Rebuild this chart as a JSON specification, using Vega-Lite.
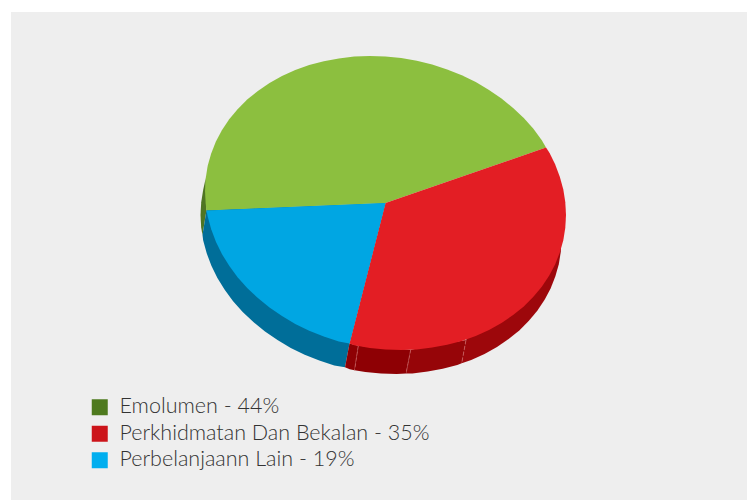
{"$schema":"https://vega.github.io/schema/vega-lite/v6.json","width":736,"height":488,"padding":{"left":11,"top":12,"right":0,"bottom":0},"background":"#ffffff","view":{"fill":"#eeeeee","stroke":null},"config":{"font":"Lato"},
"datasets":{
"walls":[
{"p":"g","i":0,"x":205.7,"y":178.25},{"p":"g","i":1,"x":203.2,"y":189.8},{"p":"g","i":2,"x":201.2,"y":202.25},{"p":"g","i":3,"x":200.5,"y":215},{"p":"g","i":4,"x":201.2,"y":227.85},{"p":"g","i":5,"x":202.5,"y":235},{"p":"g","i":6,"x":206.5,"y":210},
{"p":"b","i":0,"x":202.5,"y":235},{"p":"b","i":1,"x":203.2,"y":240.6},{"p":"b","i":2,"x":206.7,"y":253.3},{"p":"b","i":3,"x":211.4,"y":265.8},{"p":"b","i":4,"x":217.4,"y":278},{"p":"b","i":5,"x":224.7,"y":289.85},{"p":"b","i":6,"x":233.1,"y":301.2},{"p":"b","i":7,"x":242.7,"y":312},{"p":"b","i":8,"x":253.4,"y":322.1},{"p":"b","i":9,"x":265,"y":331.5},{"p":"b","i":10,"x":277.5,"y":340.1},{"p":"b","i":11,"x":290.75,"y":347.9},{"p":"b","i":12,"x":304.7,"y":354.7},{"p":"b","i":13,"x":319.3,"y":360.6},{"p":"b","i":14,"x":334.3,"y":365.4},{"p":"b","i":15,"x":345,"y":367.2},{"p":"b","i":16,"x":349.5,"y":343.5},{"p":"b","i":17,"x":385.5,"y":203},{"p":"b","i":18,"x":206.5,"y":210},
{"p":"r1","i":0,"x":349.5,"y":343.5},{"p":"r1","i":1,"x":345,"y":367.2},{"p":"r1","i":2,"x":349.7,"y":369.2},{"p":"r1","i":3,"x":354.5,"y":370.3},{"p":"r1","i":4,"x":358.3,"y":345.8},
{"p":"r2","i":0,"x":358.3,"y":345.8},{"p":"r2","i":1,"x":354.5,"y":370.3},{"p":"r2","i":2,"x":365.3,"y":371.9},{"p":"r2","i":3,"x":381,"y":373.5},{"p":"r2","i":4,"x":396.7,"y":373.9},{"p":"r2","i":5,"x":406,"y":373.6},{"p":"r2","i":6,"x":410.7,"y":349.8},
{"p":"r3","i":0,"x":410.7,"y":349.8},{"p":"r3","i":1,"x":406,"y":373.6},{"p":"r3","i":2,"x":412.3,"y":373.4},{"p":"r3","i":3,"x":427.7,"y":371.6},{"p":"r3","i":4,"x":442.7,"y":368.8},{"p":"r3","i":5,"x":457.3,"y":364.9},{"p":"r3","i":6,"x":461.7,"y":363.3},{"p":"r3","i":7,"x":466,"y":340},
{"p":"r4","i":0,"x":466,"y":340},{"p":"r4","i":1,"x":461.7,"y":363.3},{"p":"r4","i":2,"x":471.25,"y":359.9},{"p":"r4","i":3,"x":484.5,"y":353.9},{"p":"r4","i":4,"x":497,"y":346.9},{"p":"r4","i":5,"x":508.6,"y":339.1},{"p":"r4","i":6,"x":519.3,"y":330.4},{"p":"r4","i":7,"x":528.9,"y":320.8},{"p":"r4","i":8,"x":537.3,"y":310.65},{"p":"r4","i":9,"x":544.6,"y":299.8},{"p":"r4","i":10,"x":550.6,"y":288.4},{"p":"r4","i":11,"x":555.3,"y":276.5},{"p":"r4","i":12,"x":558.8,"y":264.2},{"p":"r4","i":13,"x":560.8,"y":251.75},{"p":"r4","i":14,"x":561.5,"y":239},{"p":"r4","i":15,"x":560.8,"y":226.15},{"p":"r4","i":16,"x":555,"y":210}
],
"seams":[
{"x":358.3,"y":345.8,"x2":354.5,"y2":370.3},{"x":410.7,"y":349.8,"x2":406,"y2":373.6},{"x":466,"y":340,"x2":461.7,"y2":363.3}
],
"tops":[
{"p":"Emolumen","i":0,"x":385.5,"y":203},{"p":"Emolumen","i":1,"x":546,"y":147.5},{"p":"Emolumen","i":2,"x":541.8,"y":140.15},{"p":"Emolumen","i":3,"x":533.4,"y":128.8},{"p":"Emolumen","i":4,"x":523.8,"y":118},{"p":"Emolumen","i":5,"x":513.1,"y":107.9},{"p":"Emolumen","i":6,"x":501.5,"y":98.5},{"p":"Emolumen","i":7,"x":489,"y":89.9},{"p":"Emolumen","i":8,"x":475.75,"y":82.1},{"p":"Emolumen","i":9,"x":461.8,"y":75.3},{"p":"Emolumen","i":10,"x":447.2,"y":69.4},{"p":"Emolumen","i":11,"x":432.2,"y":64.6},{"p":"Emolumen","i":12,"x":416.8,"y":60.8},{"p":"Emolumen","i":13,"x":401.2,"y":58.1},{"p":"Emolumen","i":14,"x":385.5,"y":56.5},{"p":"Emolumen","i":15,"x":369.8,"y":56.1},{"p":"Emolumen","i":16,"x":354.2,"y":56.6},{"p":"Emolumen","i":17,"x":338.8,"y":58.4},{"p":"Emolumen","i":18,"x":323.8,"y":61.2},{"p":"Emolumen","i":19,"x":309.2,"y":65.1},{"p":"Emolumen","i":20,"x":295.25,"y":70.1},{"p":"Emolumen","i":21,"x":282,"y":76.1},{"p":"Emolumen","i":22,"x":269.5,"y":83.1},{"p":"Emolumen","i":23,"x":257.9,"y":90.9},{"p":"Emolumen","i":24,"x":247.2,"y":99.6},{"p":"Emolumen","i":25,"x":237.6,"y":109.2},{"p":"Emolumen","i":26,"x":229.2,"y":119.35},{"p":"Emolumen","i":27,"x":221.9,"y":130.2},{"p":"Emolumen","i":28,"x":215.9,"y":141.6},{"p":"Emolumen","i":29,"x":211.2,"y":153.5},{"p":"Emolumen","i":30,"x":207.7,"y":165.8},{"p":"Emolumen","i":31,"x":205.7,"y":178.25},{"p":"Emolumen","i":32,"x":205,"y":191},{"p":"Emolumen","i":33,"x":205.7,"y":203.85},{"p":"Emolumen","i":34,"x":206.5,"y":210.5},
{"p":"Perkhidmatan","i":0,"x":385.5,"y":203},{"p":"Perkhidmatan","i":1,"x":349.5,"y":343.5},{"p":"Perkhidmatan","i":2,"x":354.2,"y":345.2},{"p":"Perkhidmatan","i":3,"x":369.8,"y":347.9},{"p":"Perkhidmatan","i":4,"x":385.5,"y":349.5},{"p":"Perkhidmatan","i":5,"x":401.2,"y":349.9},{"p":"Perkhidmatan","i":6,"x":416.8,"y":349.4},{"p":"Perkhidmatan","i":7,"x":432.2,"y":347.6},{"p":"Perkhidmatan","i":8,"x":447.2,"y":344.8},{"p":"Perkhidmatan","i":9,"x":461.8,"y":340.9},{"p":"Perkhidmatan","i":10,"x":475.75,"y":335.9},{"p":"Perkhidmatan","i":11,"x":489,"y":329.9},{"p":"Perkhidmatan","i":12,"x":501.5,"y":322.9},{"p":"Perkhidmatan","i":13,"x":513.1,"y":315.1},{"p":"Perkhidmatan","i":14,"x":523.8,"y":306.4},{"p":"Perkhidmatan","i":15,"x":533.4,"y":296.8},{"p":"Perkhidmatan","i":16,"x":541.8,"y":286.65},{"p":"Perkhidmatan","i":17,"x":549.1,"y":275.8},{"p":"Perkhidmatan","i":18,"x":555.1,"y":264.4},{"p":"Perkhidmatan","i":19,"x":559.8,"y":252.5},{"p":"Perkhidmatan","i":20,"x":563.3,"y":240.2},{"p":"Perkhidmatan","i":21,"x":565.3,"y":227.75},{"p":"Perkhidmatan","i":22,"x":566,"y":215},{"p":"Perkhidmatan","i":23,"x":565.3,"y":202.15},{"p":"Perkhidmatan","i":24,"x":563.3,"y":189.4},{"p":"Perkhidmatan","i":25,"x":559.8,"y":176.7},{"p":"Perkhidmatan","i":26,"x":555.1,"y":164.2},{"p":"Perkhidmatan","i":27,"x":549.6,"y":153},{"p":"Perkhidmatan","i":28,"x":546,"y":147.5},
{"p":"Perbelanjaan","i":0,"x":385.5,"y":203},{"p":"Perbelanjaan","i":1,"x":206.5,"y":210.5},{"p":"Perbelanjaan","i":2,"x":207.7,"y":216.6},{"p":"Perbelanjaan","i":3,"x":211.2,"y":229.3},{"p":"Perbelanjaan","i":4,"x":215.9,"y":241.8},{"p":"Perbelanjaan","i":5,"x":221.9,"y":254},{"p":"Perbelanjaan","i":6,"x":229.2,"y":265.85},{"p":"Perbelanjaan","i":7,"x":237.6,"y":277.2},{"p":"Perbelanjaan","i":8,"x":247.2,"y":288},{"p":"Perbelanjaan","i":9,"x":257.9,"y":298.1},{"p":"Perbelanjaan","i":10,"x":269.5,"y":307.5},{"p":"Perbelanjaan","i":11,"x":282,"y":316.1},{"p":"Perbelanjaan","i":12,"x":295.25,"y":323.9},{"p":"Perbelanjaan","i":13,"x":309.2,"y":330.7},{"p":"Perbelanjaan","i":14,"x":323.8,"y":336.6},{"p":"Perbelanjaan","i":15,"x":338.8,"y":341.4},{"p":"Perbelanjaan","i":16,"x":349.5,"y":343.5}
],
"legend":[{"label":"Emolumen - 44%"},{"label":"Perkhidmatan Dan Bekalan - 35%"},{"label":"Perbelanjaann Lain - 19%"}]
},
"layer":[
{"data":{"name":"walls"},"mark":{"type":"line","filled":true,"strokeWidth":0},"encoding":{
"x":{"field":"x","type":"quantitative","scale":{"domain":[11,747],"nice":false,"zero":false},"axis":null},
"y":{"field":"y","type":"quantitative","scale":{"domain":[500,12],"nice":false,"zero":false},"axis":null},
"order":{"field":"i","type":"quantitative"},
"color":{"field":"p","type":"nominal","legend":null,"scale":{"domain":["g","b","r1","r2","r3","r4"],"range":["#4f7523","#006e99","#8e0004","#8e0004","#960508","#9d070b"]}}}},
{"data":{"name":"seams"},"mark":{"type":"rule","color":"#c9605f","strokeWidth":0.8,"strokeDash":[4,2]},"encoding":{
"x":{"field":"x","type":"quantitative"},"y":{"field":"y","type":"quantitative"},"x2":{"field":"x2"},"y2":{"field":"y2"}}},
{"data":{"name":"tops"},"mark":{"type":"line","filled":true,"strokeWidth":0},"encoding":{
"x":{"field":"x","type":"quantitative"},"y":{"field":"y","type":"quantitative"},
"order":{"field":"i","type":"quantitative"},
"color":{"field":"p","type":"nominal","legend":null,"scale":{"domain":["Emolumen","Perkhidmatan","Perbelanjaan"],"range":["#8cbf3f","#e31e24","#00a6e3"]}}}},
{"data":{"name":"legend"},"mark":{"type":"square","size":256,"opacity":0},"encoding":{
"color":{"field":"label","type":"nominal","sort":null,"scale":{"domain":["Emolumen - 44%","Perkhidmatan Dan Bekalan - 35%","Perbelanjaann Lain - 19%"],"range":["#4e7a1e","#cc141a","#00aeef"]},
"legend":{"title":null,"orient":"none","legendX":78,"legendY":384.5,"symbolType":"square","symbolSize":256,"symbolOpacity":1,"symbolStrokeWidth":0,"labelFont":"Lato","labelFontWeight":300,"labelFontSize":21.5,"labelColor":"#333333","labelLimit":400,"labelOffset":9,"rowPadding":3.5,"padding":0}}}}
],
"resolve":{"scale":{"color":"independent"}}
}
